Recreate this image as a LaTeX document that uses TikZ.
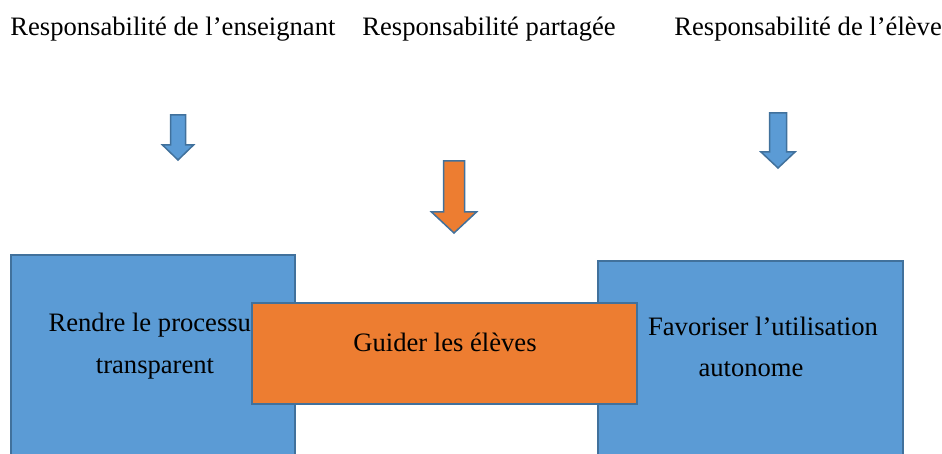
\documentclass[tikz,border=0pt]{standalone}
\usepackage{fontspec}
\setmainfont{Liberation Serif}
\usepackage{tikz, xcolor}
\definecolor{bleuoffice}{HTML}{5B9BD5}
\definecolor{orangeoffice}{HTML}{ED7D31}
\definecolor{contour}{HTML}{41719C}
\tikzset{boite/.style={draw=contour,line width=0.75pt},
  texte/.style={font=\fontsize{13.3}{21}\selectfont,align=center,inner sep=0pt}}
\newcommand{\flecheBas}[7]{%
\draw[boite,fill=#1] (#2-#6,#3) -- (#2+#6,#3) -- (#2+#6,#4) -- (#2+#7,#4)
  -- (#2,#5) -- (#2-#7,#4) -- (#2-#6,#4) -- cycle;}

\begin{document}
\begin{tikzpicture}[x=0.5pt,y=-0.5pt]
\clip (0,0) rectangle (942,454);
\fill[white] (0,0) rectangle (942,454);
\node[texte,anchor=base west] (ens) at (10,36) {Responsabilité de l’enseignant};
\node[texte,anchor=base west] (part) at (362,36) {Responsabilité partagée};
\node[texte,anchor=base west] (elev) at (674,36) {Responsabilité de l’élève};
\flecheBas{bleuoffice}{178}{115}{145}{160}{7.5}{15.5}
\flecheBas{orangeoffice}{454}{161}{212}{233}{10.5}{22.5}
\flecheBas{bleuoffice}{778}{113}{152}{168}{8.5}{17}
\draw[boite,fill=bleuoffice] (11,255) rectangle (295,480);
\node[texte] (rendre) at (155,346) {Rendre le processus\\transparent};
\draw[boite,fill=bleuoffice] (598,261) rectangle (903,480);
\node[texte] (favoriser) at (763,326) {Favoriser l’utilisation};
\node[texte] (autonome) at (751,369) {autonome};
\draw[boite,fill=orangeoffice] (252,303) rectangle (637,404);
\node[texte] (guider) at (445,342) {Guider les élèves};
\end{tikzpicture}
\end{document}
